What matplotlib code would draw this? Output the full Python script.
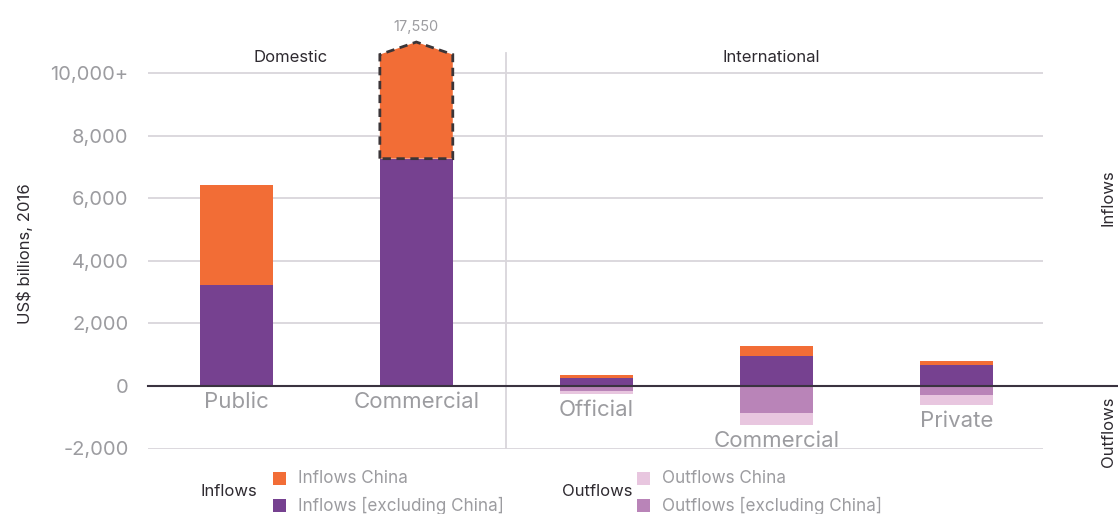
import matplotlib
matplotlib.use("Agg")
import matplotlib.pyplot as plt
from matplotlib.patches import Polygon, Rectangle
from matplotlib.lines import Line2D

plt.rcParams['font.family'] = ['Inter', 'DejaVu Sans']

# ---- data (US$ billions, 2016) ----
categories = ["Public", "Commercial", "Official", "Commercial", "Private"]
inflows_ex_china = [3240, 7270, 265, 958, 671]
inflows_china = [3200, 10280, 85, 320, 128]
outflows_ex_china = [0, 0, 150, 862, 288]
outflows_china = [0, 0, 105, 385, 320]
commercial_total = 17550
y_ticks = [-2000, 0, 2000, 4000, 6000, 8000, 10000]
y_tick_labels = ["-2,000", "0", "2,000", "4,000", "6,000", "8,000", "10,000+"]
sections = ["Domestic", "International"]

# ---- colours ----
ORANGE = "#F26D36"
PURPLE = "#764190"
OUT_EX = "#B984B8"
OUT_CN = "#E8C6DF"
GRID = "#D9D6DB"
ZERO = "#3A3340"
GREY_TXT = "#9C9CA0"
DARK_TXT = "#2E2A30"

W, H = 1118, 514
fig = plt.figure(figsize=(W / 100, H / 100), dpi=100)

# axes box in pixel units -> figure fractions
x0, x1 = 148, 1043
yb, yt = 448.5, 26.4
ax = fig.add_axes([x0 / W, (H - yb) / H, (x1 - x0) / W, (yb - yt) / H])
ax.set_xlim(-0.49, 4.48)
ax.set_ylim(-2000, 11500)
for s in ax.spines.values():
    s.set_visible(False)
ax.set_xticks([])
ax.set_yticks(y_ticks)
ax.set_yticklabels(y_tick_labels, fontsize=14.5, color=GREY_TXT)
ax.tick_params(axis='y', length=0, pad=14)

for t in y_ticks:
    if t != 0:
        ax.axhline(t, color=GRID, lw=1.3, zorder=0)

xs = list(range(len(categories)))
bw = 0.405
display_cap = 10600          # top of the broken (truncated) bar
cap_peak = 11000             # apex of the break marker

for i, x in enumerate(xs):
    base = inflows_ex_china[i]
    ax.bar(x, base, width=bw, color=PURPLE, zorder=2)
    top = base + inflows_china[i]
    if top > 10000:
        # bar too tall for the axis: draw a capped shape with a dashed outline
        pts = [(x - bw / 2, base), (x - bw / 2, display_cap), (x, cap_peak),
               (x + bw / 2, display_cap), (x + bw / 2, base)]
        ax.add_patch(Polygon(pts, closed=True, facecolor=ORANGE, edgecolor="none", zorder=2))
        ax.add_patch(Polygon(pts, closed=True, facecolor="none", edgecolor="#3B3538",
                             lw=2, linestyle=(0, (3, 2)), zorder=3, joinstyle='miter'))
        ax.text(x, cap_peak + 250, f"{commercial_total:,}", ha='center', va='bottom',
                fontsize=10.5, color=GREY_TXT)
    else:
        ax.bar(x, inflows_china[i], bottom=base, width=bw, color=ORANGE, zorder=2)
    # outflows below zero
    ax.bar(x, -outflows_ex_china[i], width=bw, color=OUT_EX, zorder=2)
    ax.bar(x, -outflows_china[i], bottom=-outflows_ex_china[i], width=bw, color=OUT_CN, zorder=2)
    low = -(outflows_ex_china[i] + outflows_china[i])
    ax.annotate(categories[i], (x, low), xytext=(0, -4.5), textcoords='offset points',
                ha='center', va='top', fontsize=16, color=GREY_TXT)

# separator between domestic and international
ax.plot([1.5, 1.5], [-2000, 10650], color=GRID, lw=1.3, zorder=1)
ax.text(0.30, 10490, sections[0], ha='center', va='center', fontsize=12, color=DARK_TXT)
ax.text(2.97, 10490, sections[1], ha='center', va='center', fontsize=12, color=DARK_TXT)

# zero line running out to the right edge
y0 = (H - 386) / H
fig.add_artist(Line2D([x0 / W, 1.0], [y0, y0], color=ZERO, lw=1.5, zorder=5))

# axis and side labels
fig.text(25 / W, 1 - 254 / H, "US$ billions, 2016", rotation=90, ha='center', va='center',
         fontsize=12, color=DARK_TXT)
fig.text(1108 / W, 1 - 198 / H, "Inflows", rotation=90, ha='center', va='center',
         fontsize=12, color=DARK_TXT)
fig.text(1108 / W, 1 - 432 / H, "Outflows", rotation=90, ha='center', va='center',
         fontsize=12, color=DARK_TXT)

# legend
def legend_group(head, head_x, sq_x, items):
    fig.text(head_x / W, 1 - 492 / H, head, ha='left', va='center', fontsize=12, color=DARK_TXT)
    for (label, col), yc in zip(items, [478.5, 505.5]):
        fig.add_artist(Rectangle((sq_x / W, 1 - (yc + 6.5) / H), 13 / W, 13 / H,
                                 transform=fig.transFigure, facecolor=col, edgecolor='none'))
        fig.text((sq_x + 25) / W, 1 - yc / H, label, ha='left', va='center',
                 fontsize=12.3, color=GREY_TXT)

legend_group("Inflows", 201, 273, [("Inflows China", ORANGE),
                                     ("Inflows [excluding China]", PURPLE)])
legend_group("Outflows", 562, 637, [("Outflows China", OUT_CN),
                                      ("Outflows [excluding China]", OUT_EX)])

fig.savefig("out.png", dpi=100)
